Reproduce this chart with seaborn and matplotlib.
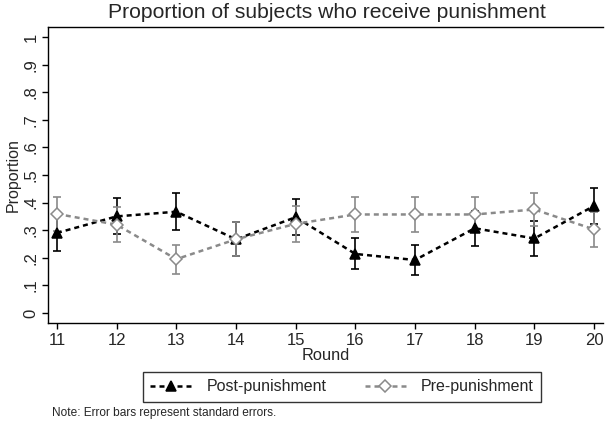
import numpy as np
import pandas as pd
import matplotlib
matplotlib.use("Agg")
import matplotlib.pyplot as plt
import seaborn as sns
from matplotlib.lines import Line2D

# ================================
#  Data
# ================================
rounds = [11, 12, 13, 14, 15, 16, 17, 18, 19, 20]
post = [0.290, 0.350, 0.367, 0.267, 0.347, 0.214, 0.192, 0.307, 0.270, 0.388]
post_se = [0.065, 0.065, 0.066, 0.061, 0.065, 0.056, 0.056, 0.064, 0.062, 0.064]
pre = [0.359, 0.320, 0.195, 0.267, 0.323, 0.357, 0.357, 0.357, 0.375, 0.303]
pre_se = [0.062, 0.064, 0.052, 0.061, 0.064, 0.064, 0.064, 0.064, 0.058, 0.063]
series_names = ["Post-punishment", "Pre-punishment"]
yticks = [0, .1, .2, .3, .4, .5, .6, .7, .8, .9, 1]
ytick_labels = ["0", ".1", ".2", ".3", ".4", ".5", ".6", ".7", ".8", ".9", "1"]

df = pd.DataFrame({
    "Round": rounds * 2,
    "Proportion": post + pre,
    "se": post_se + pre_se,
    "group": [series_names[0]] * len(rounds) + [series_names[1]] * len(rounds),
})

# ================================
#  Plot
# ================================
sns.set_style("white")
plt.rcParams["font.family"] = ["Liberation Sans", "DejaVu Sans"]

fig = plt.figure(figsize=(6.05, 4.26), dpi=100)
ax = fig.add_axes([48 / 605, 1 - 323 / 426, 555 / 605, 296 / 426])

colors = {series_names[0]: "black", series_names[1]: "#8a8a8a"}
markers = {series_names[0]: "^", series_names[1]: "D"}
faces = {series_names[0]: "black", series_names[1]: "white"}
msizes = {series_names[0]: 7.5, series_names[1]: 6}
dash = (0, (2.0, 1.6))

for name in series_names:
    d = df[df["group"] == name]
    ax.errorbar(d["Round"], d["Proportion"], yerr=d["se"], fmt="none",
                ecolor=colors[name], elinewidth=1.2, capsize=3.2, capthick=1.2, zorder=2)
    sns.lineplot(data=d, x="Round", y="Proportion", ax=ax, color=colors[name],
                 linewidth=1.8, linestyle=dash,
                 marker=markers[name], markersize=msizes[name],
                 markerfacecolor=faces[name], markeredgecolor=colors[name],
                 markeredgewidth=1.1, zorder=3)

ax.set_xlim(10.85, 20.15)
ax.set_ylim(-10 / 276, 1 + 10 / 276)
ax.set_xticks(rounds)
ax.set_xticklabels([str(r) for r in rounds], fontsize=12)
ax.set_yticks(yticks)
ax.set_yticklabels(ytick_labels, fontsize=12, rotation=90, va="center")
ax.tick_params(axis="both", direction="out", length=4, width=1, color="black",
               left=True, bottom=True, pad=3)
for s in ax.spines.values():
    s.set_color("black")
    s.set_linewidth(1.0)
# the reference is cropped just past the last round, so no right border shows
ax.spines["right"].set_visible(False)
ax.set_xlabel("Round", fontsize=11.8, labelpad=0)
ax.set_ylabel("Proportion", fontsize=11.5, labelpad=2)

fig.text(0.5 * (48 + 605) / 605, 1 - 13 / 426, "Proportion of subjects who receive punishment",
         ha="center", va="center", fontsize=15.2)

handles = [
    Line2D([0], [0], color=colors[n], linewidth=1.8, linestyle=dash,
           marker=markers[n], markersize=msizes[n], markerfacecolor=faces[n],
           markeredgecolor=colors[n], markeredgewidth=1.1)
    for n in series_names
]
leg = fig.legend(handles, series_names, loc="center", ncol=2,
                 bbox_to_anchor=(342 / 605, 1 - 387 / 426), fontsize=11.5,
                 frameon=True, fancybox=False, edgecolor="black", handlelength=2.6,
                 columnspacing=2.4, borderpad=0.45, handletextpad=0.9)
leg.get_frame().set_linewidth(1.0)

fig.text(52 / 605, 1 - 413 / 426, "Note: Error bars represent standard errors.",
         ha="left", va="center", fontsize=8.6)

fig.savefig("out.png", dpi=100)
